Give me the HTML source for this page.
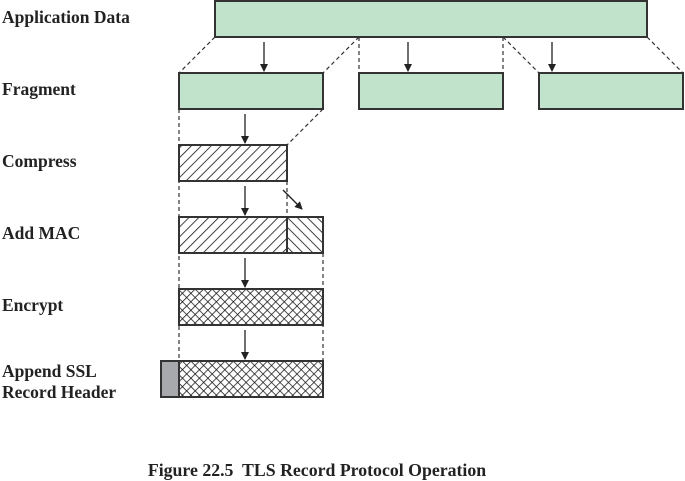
<!DOCTYPE html>
<html><head><style>body{margin:0;background:#fff}svg{display:block}</style></head><body>
<svg width="685" height="481" xmlns="http://www.w3.org/2000/svg" font-family="'Liberation Serif',serif" font-weight="bold" font-size="17.5">
<defs>
<pattern id="h1" width="7" height="7" patternUnits="userSpaceOnUse" patternTransform="rotate(45)"><line x1="0" y1="0" x2="0" y2="7" stroke="#111" stroke-width="1.6"/></pattern>
<pattern id="h2" width="7" height="7" patternUnits="userSpaceOnUse" patternTransform="rotate(-45)"><line x1="0" y1="0" x2="0" y2="7" stroke="#111" stroke-width="1.6"/></pattern>
<pattern id="hx" width="6" height="6" patternUnits="userSpaceOnUse" patternTransform="rotate(45)"><line x1="0" y1="0" x2="0" y2="6" stroke="#111" stroke-width="1.5"/><line x1="0" y1="0" x2="6" y2="0" stroke="#111" stroke-width="1.5"/></pattern>
<marker id="a" markerWidth="8" markerHeight="8" refX="7" refY="4" orient="auto" markerUnits="userSpaceOnUse"><path d="M0,0 L8,4 L0,8 Z" fill="#222"/></marker>
</defs>
<g fill="#222">
<text x="2" y="23">Application Data</text>
<text x="2" y="95">Fragment</text>
<text x="2" y="167">Compress</text>
<text x="2" y="239">Add MAC</text>
<text x="2" y="311">Encrypt</text>
<text x="2" y="377">Append SSL</text>
<text x="2" y="398">Record Header</text>
<text x="317" y="476" text-anchor="middle" font-size="17.8" xml:space="preserve">Figure 22.5  TLS Record Protocol Operation</text>
</g>
<g stroke="#333" stroke-width="1.2" stroke-dasharray="4,3" fill="none">
<line x1="215" y1="37" x2="179" y2="73"/>
<line x1="359" y1="37" x2="323" y2="73"/>
<line x1="359" y1="37" x2="359" y2="73"/>
<line x1="503" y1="37" x2="503" y2="73"/>
<line x1="503" y1="37" x2="539" y2="73"/>
<line x1="647" y1="37" x2="683" y2="73"/>
<line x1="179" y1="109" x2="179" y2="397"/>
<line x1="323" y1="109" x2="287" y2="145"/>
<line x1="287" y1="181" x2="287" y2="217"/>
<line x1="323" y1="253" x2="323" y2="361"/>
</g>
<g stroke="#333" stroke-width="2">
<rect x="215" y="1" width="432" height="36" fill="#c1e3cc"/>
<rect x="179" y="73" width="144" height="36" fill="#c1e3cc"/>
<rect x="359" y="73" width="144" height="36" fill="#c1e3cc"/>
<rect x="539" y="73" width="144" height="36" fill="#c1e3cc"/>
<rect x="179" y="145" width="108" height="36" fill="url(#h1)"/>
<rect x="179" y="217" width="108" height="36" fill="url(#h1)"/>
<rect x="287" y="217" width="36" height="36" fill="url(#h2)"/>
<rect x="179" y="289" width="144" height="36" fill="url(#hx)"/>
<rect x="179" y="361" width="144" height="36" fill="url(#hx)"/>
<rect x="161" y="361" width="18" height="36" fill="#a7a9ac"/>
</g>
<g stroke="#222" stroke-width="1.3" marker-end="url(#a)">
<line x1="264" y1="42" x2="264" y2="71"/>
<line x1="408" y1="42" x2="408" y2="71"/>
<line x1="552" y1="42" x2="552" y2="71"/>
<line x1="245" y1="114" x2="245" y2="143"/>
<line x1="245" y1="186" x2="245" y2="215"/>
<line x1="283" y1="190" x2="302" y2="209"/>
<line x1="245" y1="258" x2="245" y2="287"/>
<line x1="245" y1="330" x2="245" y2="359"/>
</g>
</svg>
</body></html>
